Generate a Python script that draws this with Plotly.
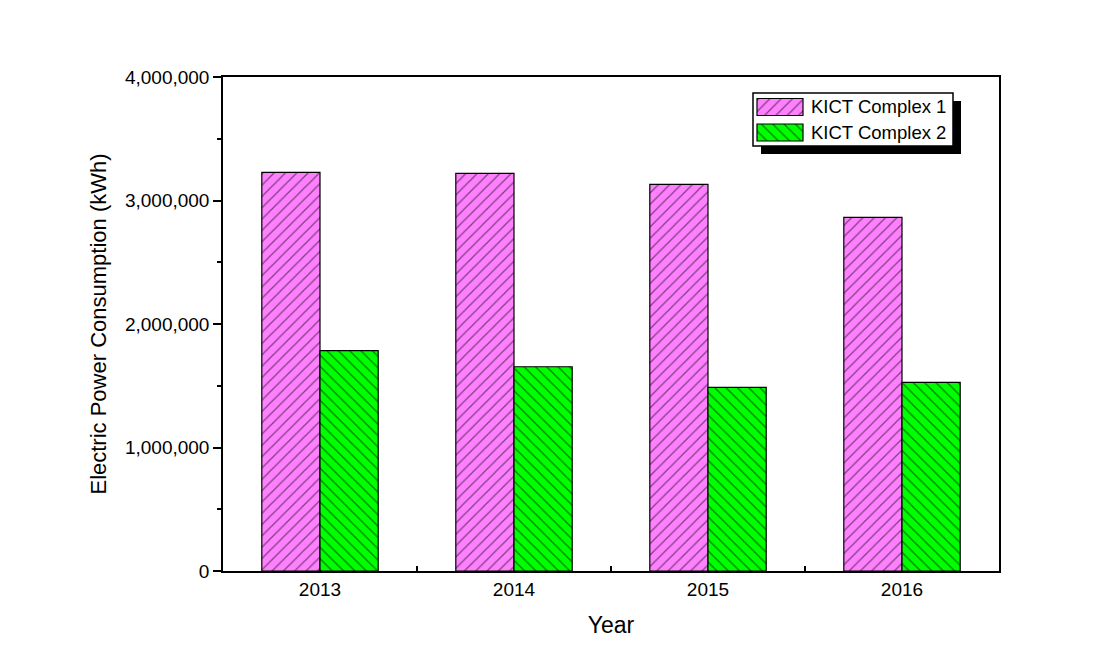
import plotly.graph_objects as go

years = ["2013", "2014", "2015", "2016"]
complex1 = [3228000, 3220000, 3131000, 2864000]
complex2 = [1784000, 1654000, 1487000, 1528000]
series_names = ["KICT Complex 1", "KICT Complex 2"]
series_colors = ["#FF80FF", "#00FF00"]
series_hatch = ["/", "\\"]

FONT = "Arial, Liberation Sans, sans-serif"

L, R, T, B = 223, 106, 77, 84
W, H = 1105, 655
pw, ph = W - L - R, H - T - B


def px_x(x):
    return (x - L) / pw


def px_y(y):
    return (H - B - y) / ph


def marker(i):
    return dict(color=series_colors[i], line=dict(color="black", width=1.2),
                pattern=dict(shape=series_hatch[i], fgcolor="black", size=8, solidity=0.16))


fig = go.Figure()
for i, vals in enumerate([complex1, complex2]):
    fig.add_trace(go.Bar(x=years, y=vals, name=series_names[i], marker=marker(i),
                         showlegend=False))

# ---- custom legend (box with drop shadow, wide hatched swatches) ----
LX0, LX1, LY0, LY1 = 753, 953, 93, 146      # legend box in page pixels
SH = 8                                       # shadow offset
SW_X0, SW_W, SW_H = 757, 46, 17              # swatch geometry
ROW_Y = [107, 132.5]                         # row centres
TEXT_X = 809

for i in range(2):
    fig.add_trace(go.Bar(
        x=[SW_W], y=[ROW_Y[i]], base=[SW_X0], orientation="h", width=SW_H,
        marker=marker(i), showlegend=False, hoverinfo="skip",
        xaxis="x2", yaxis="y2"))
    fig.add_annotation(x=TEXT_X, y=ROW_Y[i], xref="x2", yref="y2", text=series_names[i],
                       showarrow=False, xanchor="left", yanchor="middle",
                       font=dict(family=FONT, size=18.5, color="black"))

fig.add_shape(type="rect", xref="paper", yref="paper",
              x0=px_x(LX0 + SH), x1=px_x(LX1 + SH), y0=px_y(LY1 + SH), y1=px_y(LY0 + SH),
              fillcolor="black", line=dict(width=0), layer="below")
fig.add_shape(type="rect", xref="paper", yref="paper",
              x0=px_x(LX0), x1=px_x(LX1), y0=px_y(LY1), y1=px_y(LY0),
              fillcolor="white", line=dict(width=0), layer="below")
fig.add_shape(type="rect", xref="paper", yref="paper",
              x0=px_x(LX0), x1=px_x(LX1), y0=px_y(LY1), y1=px_y(LY0),
              fillcolor="rgba(0,0,0,0)", line=dict(color="black", width=1.5), layer="above")

fig.update_layout(
    width=W, height=H,
    margin=dict(l=L, r=R, t=T, b=B),
    paper_bgcolor="white", plot_bgcolor="rgba(0,0,0,0)",
    barmode="group", bargap=0.4, bargroupgap=0,
    font=dict(family=FONT, size=19, color="black"),
    showlegend=False,
    xaxis=dict(
        range=[-0.5, 3.5], showline=True, linecolor="black", linewidth=1.5,
        mirror=True, ticks="inside", tickson="boundaries", ticklen=5,
        tickcolor="black", tickwidth=1.5, showgrid=False,
        title=dict(text="Year", font=dict(family=FONT, size=23), standoff=18),
        tickfont=dict(family=FONT, size=19),
    ),
    yaxis=dict(
        range=[0, 4000000], dtick=1000000, tickformat=",d",
        showline=True, linecolor="black", linewidth=1.5, mirror=True,
        ticks="outside", ticklen=8, tickcolor="black", tickwidth=1.5,
        minor=dict(dtick=500000, ticks="outside", ticklen=4, tickcolor="black", tickwidth=1.5),
        showgrid=False, zeroline=False,
        title=dict(text="Electric Power Consumption (kWh)", font=dict(family=FONT, size=22), standoff=12),
        tickfont=dict(family=FONT, size=19),
    ),
    xaxis2=dict(domain=[px_x(LX0), px_x(LX1)], range=[LX0, LX1], visible=False,
                anchor="y2", fixedrange=True),
    yaxis2=dict(domain=[px_y(LY1), px_y(LY0)], range=[LY1, LY0], visible=False,
                anchor="x2", fixedrange=True),
)

fig.write_html("out.html")
